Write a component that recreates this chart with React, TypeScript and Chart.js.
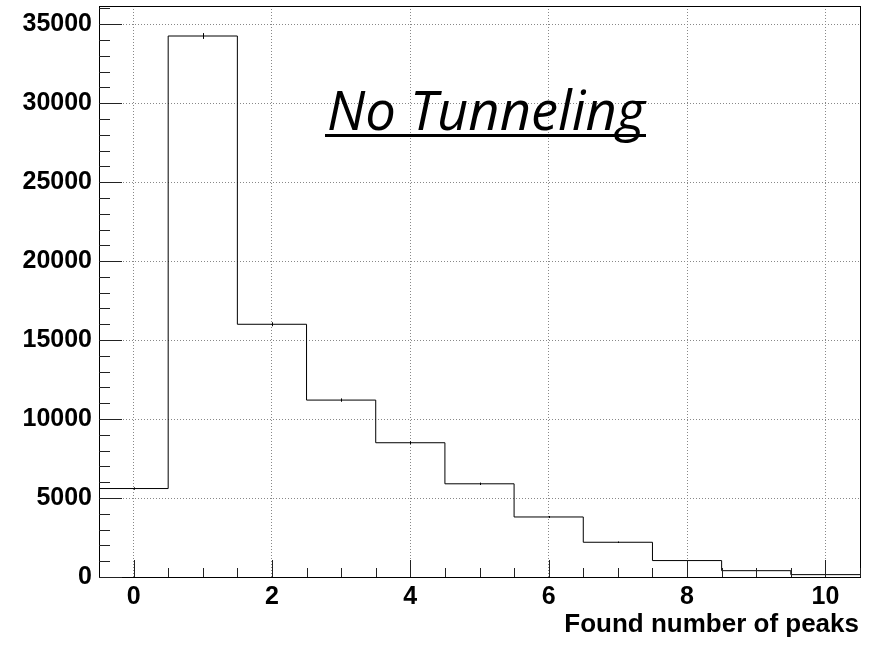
import React, { useEffect, useRef } from "react";
import { Chart, registerables } from "chart.js";

Chart.register(...registerables);

// ---- data ----
const binCenters = [0, 1, 2, 3, 4, 5, 6, 7, 8, 9, 10];
const binCounts = [5600, 34250, 16000, 11200, 8500, 5900, 3800, 2200, 1040, 400, 150];
const xTickValues = [0, 2, 4, 6, 8, 10];
const yTickValues = [0, 5000, 10000, 15000, 20000, 25000, 30000, 35000];
const xMin = -0.5;
const xMax = 10.5;
const yMin = 0;
const yMax = 36150;
const xTitle = "Found number of peaks";
const annotationText = "No Tunneling";

const LABEL_FONT = "'Liberation Sans', Arial, Helvetica, sans-serif";

const rootStylePlugin = {
  id: "rootStyle",
  afterDatasetsDraw(chart: any) {
    const { ctx, chartArea, scales } = chart;
    const xs = scales.x;
    const ys = scales.y;
    const { left, right, top, bottom } = chartArea;
    ctx.save();

    // error bars (sqrt N)
    ctx.strokeStyle = "#000";
    ctx.lineWidth = 1;
    binCenters.forEach((c, i) => {
      const v = binCounts[i];
      const e = Math.sqrt(v);
      const px = Math.round(xs.getPixelForValue(c)) + 0.5;
      ctx.beginPath();
      ctx.moveTo(px, ys.getPixelForValue(v - e));
      ctx.lineTo(px, ys.getPixelForValue(v + e));
      ctx.stroke();
    });

    // frame
    ctx.strokeStyle = "#000";
    ctx.lineWidth = 1;
    ctx.strokeRect(Math.round(left) + 0.5, Math.round(top) + 0.5, Math.round(right - left), Math.round(bottom - top));

    // y ticks (inside)
    const yStep = yTickValues[1] - yTickValues[0];
    const yMinor = yStep / 5;
    ctx.strokeStyle = "#222";
    for (let v = yMin; v <= yMax + 1e-6; v += yMinor) {
      const isMajor = Math.abs(v / yStep - Math.round(v / yStep)) < 1e-6;
      const py = Math.round(ys.getPixelForValue(v)) + 0.5;
      ctx.beginPath();
      ctx.moveTo(left, py);
      ctx.lineTo(left + (isMajor ? 23 : 11), py);
      ctx.stroke();
    }
    // x ticks (inside)
    const xStep = xTickValues[1] - xTickValues[0];
    const xMinor = xStep / 4;
    for (let v = xTickValues[0]; v <= xMax + 1e-6; v += xMinor) {
      const isMajor = Math.abs(v / xStep - Math.round(v / xStep)) < 1e-6;
      const px = Math.round(xs.getPixelForValue(v)) + 0.5;
      ctx.beginPath();
      ctx.moveTo(px, bottom);
      ctx.lineTo(px, bottom - (isMajor ? 17 : 9));
      ctx.stroke();
    }

    // x title
    ctx.fillStyle = "#000";
    ctx.font = `bold 26px ${LABEL_FONT}`;
    ctx.textAlign = "right";
    ctx.textBaseline = "alphabetic";
    ctx.fillText(xTitle, 859, 632);

    // annotation
    const baseSize = 58;
    ctx.font = `italic 400 ${baseSize}px 'Open Sans', Lato, sans-serif`;
    const w = ctx.measureText(annotationText).width;
    const size = (baseSize * 318) / w;
    ctx.font = `italic 400 ${size}px 'Open Sans', Lato, sans-serif`;
    ctx.textAlign = "left";
    ctx.fillText(annotationText, 327, 130);
    ctx.fillRect(325, 134, 321, 3);

    ctx.restore();
  },
};

export default function App() {
  const canvasRef = useRef<HTMLCanvasElement | null>(null);

  useEffect(() => {
    const canvas = canvasRef.current;
    if (!canvas) return;
    const stepPoints = binCenters.map((c, i) => ({ x: c - 0.5, y: binCounts[i] }));
    stepPoints.push({ x: binCenters[binCenters.length - 1] + 0.5, y: binCounts[binCounts.length - 1] });

    const chart = new Chart(canvas, {
      type: "line",
      data: {
        datasets: [
          {
            data: stepPoints,
            stepped: "before",
            borderColor: "#000",
            borderWidth: 1,
            pointRadius: 0,
            fill: false,
          },
        ],
      },
      options: {
        animation: false,
        responsive: false,
        devicePixelRatio: 1,
        layout: { padding: { top: 6, right: 12, left: 0, bottom: 0 } },
        plugins: { legend: { display: false }, tooltip: { enabled: false } },
        scales: {
          x: {
            type: "linear",
            min: xMin,
            max: xMax,
            afterBuildTicks: (axis: any) => {
              axis.ticks = xTickValues.map((v) => ({ value: v }));
            },
            afterFit: (axis: any) => {
              axis.height = 68;
              axis.paddingLeft = 0;
              axis.paddingRight = 0;
            },
            grid: { color: "#888", drawTicks: false, lineWidth: 1 },
            border: { display: false, dash: [1, 2] },
            ticks: {
              color: "#000",
              padding: 5,
              font: { family: LABEL_FONT, size: 25, weight: "bold" },
              maxRotation: 0,
            },
          },
          y: {
            type: "linear",
            min: yMin,
            max: yMax,
            afterBuildTicks: (axis: any) => {
              axis.ticks = yTickValues.map((v) => ({ value: v }));
            },
            afterFit: (axis: any) => {
              axis.width = 99;
              axis.paddingTop = 0;
              axis.paddingBottom = 0;
            },
            grid: { color: "#888", drawTicks: false, lineWidth: 1 },
            border: { display: false, dash: [1, 2] },
            ticks: {
              color: "#000",
              padding: 7,
              font: { family: LABEL_FONT, size: 25, weight: "bold" },
              callback: (v: any) => String(v),
            },
          },
        },
      },
      plugins: [rootStylePlugin],
    });
    return () => chart.destroy();
  }, []);

  return (
    <div style={{ position: "absolute", left: 0, top: 0, width: 872, height: 645, background: "#fff" }}>
      <canvas ref={canvasRef} width={872} height={645} style={{ display: "block" }} />
    </div>
  );
}
